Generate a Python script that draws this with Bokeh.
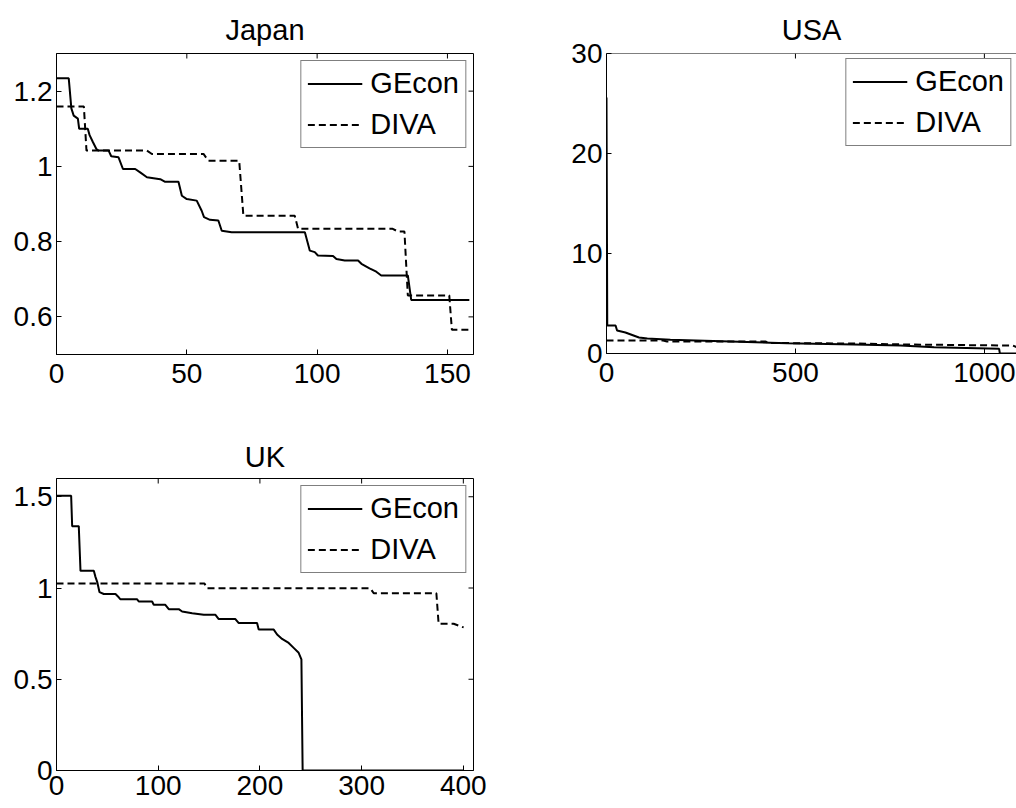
import math
from bokeh.plotting import figure
from bokeh.models import FixedTicker, NumeralTickFormatter, Range1d, Legend, LegendItem, Span
from bokeh.layouts import column, row
from bokeh.embed import file_html
from bokeh.resources import INLINE

FONT = "Liberation Sans"

# ---------------- data ----------------
jp_gecon_x = [0, 4.7, 5.7, 6.6, 8.2, 8.7, 12.0, 12.7, 14.0, 15.3, 16, 20, 21, 23.8, 25.5, 30.2, 32.1, 34.7,
              39.8, 41.7, 46.8, 48.1, 50.0, 53.8, 55.7, 56.6, 58.9, 62.1, 63.4, 67.2, 95.3, 97.2, 99.1,
              100.3, 106.1, 107.4, 110.6, 115.7, 117, 120.1, 122.7, 124.6, 134.8, 136.1, 158.4]
jp_gecon_y = [1.234, 1.234, 1.154, 1.135, 1.127, 1.10, 1.10, 1.083, 1.064, 1.046, 1.042, 1.042, 1.027, 1.024,
              0.993, 0.993, 0.984, 0.971, 0.966, 0.959, 0.959, 0.922, 0.913, 0.909, 0.882, 0.865, 0.858,
              0.856, 0.829, 0.825, 0.825, 0.776, 0.772, 0.763, 0.762, 0.754, 0.750, 0.750, 0.741, 0.729,
              0.720, 0.710, 0.710, 0.645, 0.645]
jp_diva_x = [0, 10.5, 11.5, 34.7, 36.6, 56.4, 58.3, 70.1, 71.7, 91.4, 92.7, 129.0, 131, 133.5, 134.8,
             150.7, 151.7, 158.4]
jp_diva_y = [1.159, 1.159, 1.042, 1.042, 1.033, 1.033, 1.015, 1.015, 0.869, 0.869, 0.834, 0.834, 0.827,
             0.827, 0.657, 0.657, 0.566, 0.566]

us_gecon_x = [0, 2, 24, 28, 50, 86, 108, 169, 328, 478, 655, 778, 867, 1039, 1041, 1100]
us_gecon_y = [25.6, 2.8, 2.8, 2.3, 2.1, 1.6, 1.5, 1.37, 1.2, 1.03, 0.9, 0.8, 0.63, 0.47, 0, 0]
us_diva_x = [0, 150, 160, 420, 430, 650, 800, 1050, 1075, 1085, 1100]
us_diva_y = [1.3, 1.3, 1.2, 1.2, 1.05, 1.0, 0.9, 0.8, 0.8, 0.65, 0.65]

uk_gecon_x = [0, 14.4, 15.4, 21.9, 23.6, 36.7, 38.3, 40, 42.3, 46.5, 58, 61.2, 62.9, 79.3, 80.9, 94, 95.6,
              107, 110.4, 120.2, 123.5, 133.4, 144.8, 156.3, 159.5, 175.9, 179.2, 197.2, 198.8, 213.6,
              216.9, 221.8, 228.3, 233.2, 238.1, 240.8, 242, 400]
uk_gecon_y = [1.505, 1.505, 1.339, 1.339, 1.094, 1.094, 1.061, 1.034, 0.977, 0.967, 0.967, 0.949, 0.938,
              0.938, 0.926, 0.926, 0.908, 0.908, 0.884, 0.884, 0.871, 0.862, 0.853, 0.853, 0.830, 0.830,
              0.808, 0.808, 0.772, 0.772, 0.745, 0.721, 0.699, 0.672, 0.645, 0.609, 0, 0]
uk_diva_x = [0, 145.5, 148, 308.6, 311.9, 373.5, 375.7, 390.5, 400.3]
uk_diva_y = [1.025, 1.025, 0.998, 0.998, 0.971, 0.971, 0.804, 0.804, 0.784]

titles = ["Japan", "USA", "UK"]
series_names = ["GEcon", "DIVA"]
jp_xticks = [0, 50, 100, 150]
jp_yticks = [0.6, 0.8, 1.0, 1.2]
us_xticks = [0, 500, 1000]
us_yticks = [0, 10, 20, 30]
uk_xticks = [0, 100, 200, 300, 400]
uk_yticks = [0, 0.5, 1.0, 1.5]


def style_axis(ax, ticks, standoff):
    ax.ticker = FixedTicker(ticks=ticks)
    ax.formatter = NumeralTickFormatter(format="0.[0]")
    ax.axis_line_color = "black"
    ax.axis_line_width = 1
    ax.major_tick_in = 5
    ax.major_tick_out = 0
    ax.major_tick_line_color = "black"
    ax.minor_tick_line_color = None
    ax.major_label_text_font = FONT
    ax.major_label_text_font_size = "28px"
    ax.major_label_text_color = "black"
    ax.major_label_standoff = standoff


def panel(title, xr, yr, xt, yt, gx, gy, dx, dy, fw, fh, bl, bt, br, bb,
          right_box=True, leg_margin=7, x_standoff=9, title_standoff=14):
    p = figure(frame_width=fw, frame_height=fh, x_range=Range1d(*xr), y_range=Range1d(*yr),
               output_backend="svg", toolbar_location=None, title=title,
               min_border_left=bl, min_border_top=bt, min_border_right=br, min_border_bottom=bb)
    p.grid.visible = False
    p.background_fill_color = "white"
    p.border_fill_color = "white"
    p.title.text_font = FONT
    p.title.text_font_size = "29px"
    p.title.text_font_style = "normal"
    p.title.text_color = "black"
    p.title.align = "center"
    p.title.vertical_align = "middle"
    p.title.standoff = title_standoff

    style_axis(p.xaxis[0], xt, x_standoff)
    style_axis(p.yaxis[0], yt, 4)

    # inward ticks on the top (and right) edges of the box
    p.ray(x=xt, y=[yr[1]] * len(xt), length=5, length_units="screen",
          angle=-math.pi / 2, line_color="black", line_width=1)
    if right_box:
        p.outline_line_color = "black"
        p.outline_line_width = 1
        p.ray(x=[xr[1]] * len(yt), y=yt, length=5, length_units="screen",
              angle=math.pi, line_color="black", line_width=1)
    else:
        p.outline_line_color = None
        p.add_layout(Span(location=yr[1], dimension="width", line_color="black", line_width=1))

    r1 = p.line(gx, gy, line_color="black", line_width=2)
    r2 = p.line(dx, dy, line_color="black", line_width=2, line_dash="7 4")
    leg = Legend(items=[LegendItem(label=series_names[0], renderers=[r1]),
                        LegendItem(label=series_names[1], renderers=[r2])],
                 location="top_right")
    leg.label_text_font = FONT
    leg.label_text_font_size = "29px"
    leg.label_text_color = "black"
    leg.border_line_color = "black"
    leg.border_line_width = 1
    leg.background_fill_color = "white"
    leg.background_fill_alpha = 1
    leg.glyph_width = 55
    leg.glyph_height = 25
    leg.label_height = 25
    leg.label_standoff = 8
    leg.padding = 6
    leg.spacing = 8
    leg.margin = leg_margin
    p.add_layout(leg)
    return p


p_jp = panel(titles[0], (0, 160), (0.5, 1.3), jp_xticks, jp_yticks,
             jp_gecon_x, jp_gecon_y, jp_diva_x, jp_diva_y,
             417, 301, 56, 52, 27, 77)
p_us = panel(titles[1], (0, 1085), (0, 30), us_xticks, us_yticks,
             us_gecon_x, us_gecon_y, us_diva_x, us_diva_y,
             410, 300, 106, 53, 0, 42, right_box=False, leg_margin=5)
p_uk = panel(titles[2], (0, 410), (0, 1.6), uk_xticks, uk_yticks,
             uk_gecon_x, uk_gecon_y, uk_diva_x, uk_diva_y,
             417, 292, 56, 48, 27, 35, x_standoff=5, title_standoff=10)

layout = column(row(p_jp, p_us), p_uk)
open("out.html", "w").write(file_html(layout, INLINE))
